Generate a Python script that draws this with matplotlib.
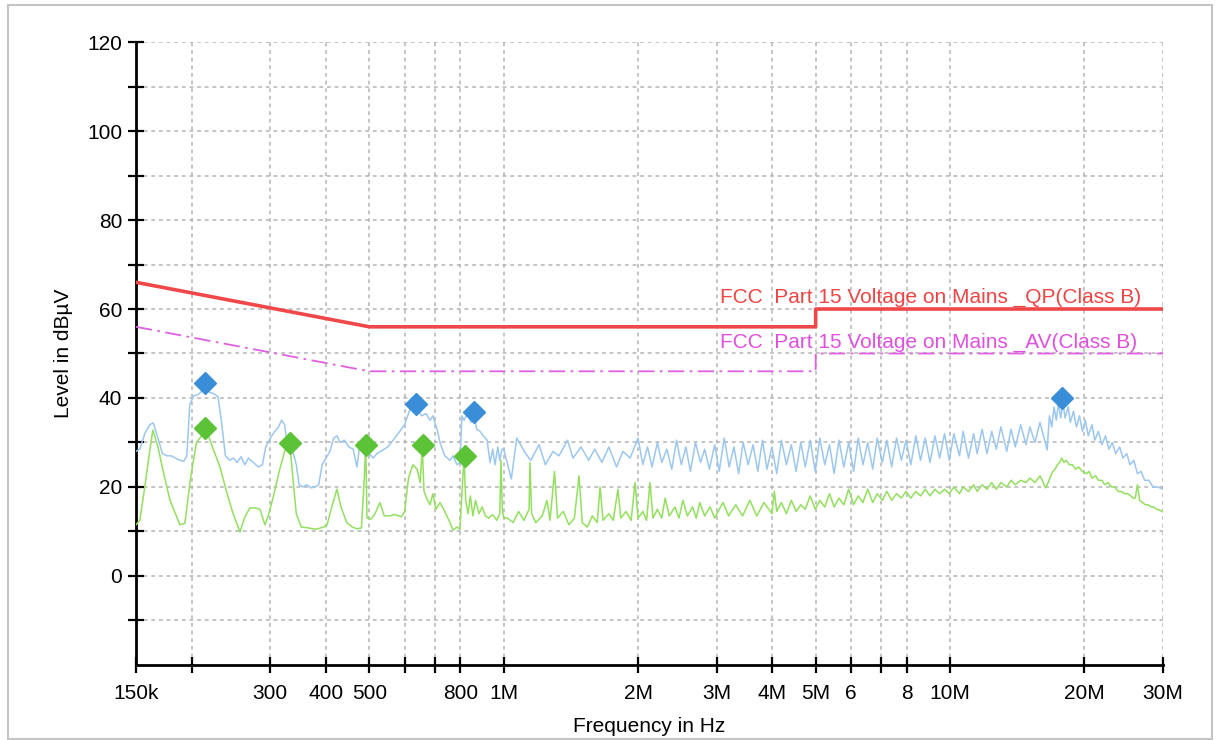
import matplotlib
matplotlib.use('Agg')
import matplotlib.pyplot as plt
from matplotlib.patches import Rectangle
from matplotlib.ticker import FixedLocator, FixedFormatter, NullLocator

# Conducted emission scan, frequency in MHz, level in dBuV

# peak trace (light blue)
blue_f = [0.150, 0.153, 0.157, 0.161, 0.164, 0.168, 0.172, 0.176, 0.180, 0.184,
          0.188, 0.192, 0.195, 0.198, 0.202, 0.207, 0.212, 0.216, 0.220, 0.224,
          0.229, 0.233, 0.238, 0.243, 0.248, 0.253, 0.258, 0.263, 0.268, 0.275,
          0.282, 0.288, 0.293, 0.300, 0.307, 0.313, 0.318, 0.323, 0.327, 0.332,
          0.338, 0.343, 0.348, 0.355, 0.362, 0.370, 0.378, 0.385, 0.392, 0.400,
          0.408, 0.416, 0.423, 0.430, 0.440, 0.450, 0.460, 0.469, 0.476, 0.485,
          0.492, 0.500, 0.510, 0.520, 0.530, 0.540, 0.550, 0.560, 0.570, 0.585,
          0.600, 0.607, 0.617, 0.626, 0.636, 0.645, 0.655, 0.670, 0.684, 0.694,
          0.709, 0.720, 0.738, 0.758, 0.770, 0.786, 0.798, 0.806, 0.815, 0.830,
          0.845, 0.858, 0.870, 0.885, 0.900, 0.918, 0.932, 0.945, 0.956, 0.970,
          0.980, 0.991,
          1.00, 1.04, 1.07, 1.12, 1.15, 1.20, 1.24, 1.29, 1.33, 1.39,
          1.43, 1.49, 1.55, 1.60, 1.66, 1.72, 1.79, 1.85, 1.92,
          2.00, 2.05, 2.10, 2.15, 2.21, 2.26, 2.32, 2.38, 2.44, 2.50,
          2.56, 2.62, 2.69, 2.76, 2.82, 2.89, 2.97, 3.04, 3.12, 3.20,
          3.28, 3.36, 3.44, 3.53, 3.62, 3.71, 3.80, 3.89, 3.99, 4.09,
          4.19, 4.30, 4.41, 4.52, 4.63, 4.74, 4.86, 4.99, 5.11, 5.24,
          5.37, 5.50, 5.64, 5.78, 5.93, 6.08, 6.23, 6.38, 6.54, 6.71,
          6.87, 7.05, 7.22, 7.40, 7.59, 7.78, 7.97, 8.17, 8.38, 8.59,
          8.80, 9.02, 9.25, 9.48, 9.72, 9.96, 10.2, 10.5, 10.7, 11.0,
          11.3, 11.5, 11.8, 12.1, 12.4, 12.7, 13.0, 13.4, 13.7, 14.0,
          14.4, 14.8, 15.1, 15.5, 15.9, 16.3,
          16.5, 16.7, 16.9, 17.1, 17.3, 17.5, 17.7, 17.9, 18.1, 18.4,
          18.6, 18.9, 19.2, 19.5, 19.8, 20.1, 20.4, 20.8, 21.1, 21.5,
          21.9, 22.3, 22.7, 23.1, 23.5, 24.0, 24.4, 24.9, 25.3, 25.8,
          26.3, 26.8, 27.3, 27.9, 28.5, 29.2, 30.0]
blue_db = [28.0, 28.5, 32.0, 34.0, 34.4, 31.0, 27.5, 27.0, 27.0, 26.5,
           26.0, 25.8, 27.0, 38.5, 40.5, 40.8, 41.8, 42.0, 41.2, 41.0,
           40.3, 35.0, 27.0, 26.0, 26.5, 25.5, 26.8, 25.0, 26.5, 25.5,
           24.5, 25.0, 29.0, 31.0, 32.5, 33.5, 35.0, 34.0, 30.0, 28.0,
           27.5, 25.0, 20.5, 20.0, 20.5, 19.8, 20.0, 20.5, 25.0, 26.5,
           28.0, 31.0, 31.5, 30.0, 30.5, 29.0, 28.5, 24.5, 29.5, 30.0,
           29.5, 27.5, 26.5, 27.5, 28.0, 28.5, 29.0, 30.0, 31.0, 32.5,
           34.0, 35.5, 37.5, 38.5, 38.0, 37.0, 36.0, 36.5, 35.0, 36.0,
           33.0, 30.0, 27.0, 26.0, 27.0, 25.0, 25.5, 36.0, 35.0, 36.5,
           34.5, 36.0, 33.0, 32.5, 31.5, 30.5, 25.5, 28.5, 25.0, 29.0,
           26.0, 28.5,
           28.5, 21.8, 31.0, 27.5, 26.0, 29.5, 25.0, 28.0, 27.0, 30.5,
           26.5, 29.0, 26.0, 28.5, 25.5, 29.0, 24.5, 28.0, 26.5,
           31.0, 25.0, 29.0, 24.5, 30.0, 25.5, 28.5, 24.0, 30.5, 25.0,
           29.0, 23.5, 30.0, 25.5, 28.5, 24.0, 29.5, 23.5, 31.0, 24.5,
           29.0, 23.0, 30.0, 25.0, 29.5, 23.5, 30.5, 24.0, 29.0, 23.0,
           30.5, 25.0, 29.5, 23.5, 30.0, 24.5, 30.5, 23.5, 31.0, 25.0,
           29.5, 23.0, 30.5, 24.5, 30.0, 23.5, 31.0, 25.0, 30.0, 24.0,
           31.0, 25.5, 30.5, 24.5, 31.0, 26.0, 30.5, 25.0, 31.5, 26.0,
           31.0, 25.5, 31.5, 26.5, 32.0, 26.0, 32.0, 27.0, 32.5, 26.5,
           32.0, 27.5, 33.0, 27.5, 32.5, 28.5, 33.5, 28.0, 33.0, 29.0,
           34.0, 29.5, 33.5, 30.0, 34.5, 30.5,
           28.3, 36.0, 33.5, 38.0, 35.0, 39.0, 35.5, 39.0, 35.5, 38.0,
           34.5, 37.0, 33.5, 36.0, 32.5, 35.0, 31.5, 34.0, 30.5, 32.5,
           29.5, 31.5, 28.5, 30.0, 27.5, 29.0, 26.5, 27.5, 25.0, 26.0,
           23.0, 23.5, 21.5, 21.5, 20.0, 20.0, 19.5]

# average trace (light green)
green_f = [0.150, 0.153, 0.157, 0.161, 0.1637, 0.168, 0.1724, 0.1788, 0.1882, 0.193,
           0.199, 0.205, 0.2141, 0.219, 0.2226, 0.2314, 0.2399, 0.2474, 0.2565, 0.2632,
           0.270, 0.2772, 0.2844, 0.2918, 0.2965, 0.305, 0.315, 0.323, 0.332, 0.337,
           0.343, 0.352, 0.365, 0.380, 0.395, 0.402, 0.412, 0.423, 0.432, 0.445,
           0.458, 0.469, 0.480, 0.486, 0.491, 0.494, 0.505, 0.515, 0.528, 0.540,
           0.555, 0.570, 0.590, 0.600, 0.612, 0.626, 0.640, 0.650, 0.657, 0.663,
           0.672, 0.684, 0.694, 0.705, 0.720, 0.738, 0.758, 0.770, 0.786, 0.798,
           0.808, 0.815, 0.822, 0.832, 0.842, 0.853, 0.865, 0.880, 0.895, 0.910,
           0.925, 0.945, 0.965, 0.980, 0.986, 0.993,
           1.00, 1.02, 1.05, 1.08, 1.11, 1.14, 1.145, 1.155, 1.18, 1.22,
           1.25, 1.27, 1.30, 1.32, 1.36, 1.40, 1.44, 1.475, 1.50, 1.54,
           1.58, 1.62, 1.644, 1.67, 1.72, 1.76, 1.803, 1.83, 1.88, 1.93,
           1.969, 2.00, 2.05, 2.09, 2.127, 2.16, 2.21, 2.26, 2.30, 2.35,
           2.42, 2.47, 2.52, 2.58, 2.65, 2.70, 2.75, 2.82, 2.90, 2.97,
           3.04, 3.10, 3.19, 3.31, 3.43, 3.56, 3.69, 3.83,
           3.99, 4.04, 4.09, 4.19, 4.30, 4.41, 4.52, 4.63, 4.74, 4.86,
           4.99, 5.11, 5.24, 5.37, 5.50, 5.64, 5.78, 5.93, 6.08, 6.23,
           6.38, 6.54, 6.71, 6.87, 7.05, 7.22, 7.40, 7.59, 7.78, 7.97,
           8.17, 8.38, 8.59, 8.80, 9.02, 9.25, 9.48, 9.72, 9.96, 10.2,
           10.5, 10.7, 11.0, 11.3, 11.5, 11.8, 12.1, 12.4, 12.7, 13.0,
           13.4, 13.7, 14.0, 14.4, 14.8, 15.1, 15.5, 15.9, 16.1, 16.35,
           16.6, 16.8, 17.0, 17.2, 17.4, 17.6, 17.8, 18.0, 18.2, 18.5,
           18.8, 19.1, 19.4, 19.8, 20.2, 20.5, 20.8, 21.2, 21.5, 21.9,
           22.2, 22.6, 23.0, 23.4, 23.8, 24.2, 24.6, 25.0, 25.4, 25.7,
           26.0, 26.3, 26.6, 27.0, 27.4, 27.8, 28.2, 28.6, 29.0, 29.5,
           30.0]
green_db = [11.5, 12.5, 20.0, 28.0, 32.8, 29.0, 23.8, 17.0, 11.5, 11.8,
            22.3, 30.0, 32.5, 31.0, 29.0, 24.5, 18.6, 14.1, 9.9, 13.3,
            15.3, 15.3, 15.0, 11.5, 13.3, 18.0, 24.0, 28.0, 29.5, 22.0,
            14.0, 11.0, 10.8, 10.5, 11.0, 11.5, 15.5, 19.5, 15.5, 12.0,
            11.0, 10.6, 10.8, 20.0, 29.0, 13.0, 12.8, 14.0, 16.5, 13.5,
            13.5, 13.8, 13.3, 14.5, 22.0, 25.0, 24.0, 21.0, 29.0, 19.0,
            17.5, 16.0, 18.5, 15.0, 16.5, 14.5, 12.0, 10.3, 11.0, 10.5,
            20.0, 27.0, 17.0, 14.0, 18.0, 13.5, 17.0, 14.0, 15.5, 13.5,
            13.0, 13.8, 12.5, 14.0, 26.0, 15.0,
            13.0, 13.0, 12.0, 14.5, 12.5, 15.0, 25.5, 14.0, 12.0, 13.5,
            17.0, 12.5, 23.5, 13.0, 14.5, 11.5, 13.0, 22.5, 12.0, 11.0,
            13.5, 12.0, 20.0, 12.5, 14.0, 12.5, 19.5, 13.0, 14.5, 12.5,
            21.0, 13.0, 14.5, 12.5, 21.0, 13.0, 15.0, 13.0, 17.5, 13.5,
            15.5, 13.0, 17.0, 13.5, 15.5, 13.0, 16.5, 13.5, 15.5, 13.0,
            15.0, 16.5, 13.5, 16.0, 13.5, 17.0, 13.5, 16.5,
            14.0, 19.0, 14.5, 16.5, 14.0, 17.0, 14.5, 16.0, 15.0, 18.0,
            15.0, 17.0, 15.5, 18.5, 15.5, 17.5, 16.0, 19.5, 16.0, 18.0,
            16.5, 19.5, 16.5, 18.5, 17.0, 19.0, 17.0, 18.5, 17.5, 19.0,
            17.5, 19.0, 18.0, 19.5, 18.0, 19.5, 18.5, 19.5, 18.5, 20.0,
            18.5, 20.0, 19.0, 20.5, 19.0, 20.5, 19.5, 21.0, 19.5, 21.0,
            20.0, 21.5, 20.5, 21.5, 21.0, 22.0, 21.0, 22.5, 21.5, 19.8,
            21.0, 22.5, 23.5, 24.0, 25.0, 25.5, 26.5, 25.5, 26.0, 25.0,
            25.0, 24.0, 24.5, 23.5, 23.0, 23.5, 22.0, 22.5, 21.5, 21.5,
            20.5, 21.0, 20.0, 20.0, 19.0, 19.0, 18.5, 18.5, 18.0, 17.5,
            17.5, 20.5, 17.0, 16.5, 16.0, 16.0, 15.5, 15.5, 15.0, 14.8,
            14.4]

# limit lines
limit_f = [0.15, 0.5, 5.0, 5.0, 30.0]
qp_limit = [66, 56, 56, 60, 60]
av_limit = [56, 46, 46, 50, 50]

# final measurement points
qp_peak_f = [0.214, 0.636, 0.858, 17.8]
qp_peak_db = [43.4, 38.7, 36.9, 40.0]
av_peak_f = [0.214, 0.332, 0.491, 0.659, 0.819]
av_peak_db = [33.3, 29.9, 29.4, 29.4, 27.0]

x_ticks = [0.15, 0.2, 0.3, 0.4, 0.5, 0.6, 0.7, 0.8, 1, 2, 3, 4, 5, 6, 7, 8, 10, 20, 30]
x_tick_labels = ['150k', '', '300', '400', '500', '', '', '800', '1M', '2M', '3M',
                 '4M', '5M', '6', '', '8', '10M', '20M', '30M']
y_ticks = [0, 20, 40, 60, 80, 100, 120]
y_minor = [-10, 10, 30, 50, 70, 90, 110]

plt.rcParams['font.family'] = ['Liberation Sans', 'DejaVu Sans']

fig = plt.figure(figsize=(12.16, 7.40), dpi=100)
ax = fig.add_axes([0.1118, 0.1014, 0.8446, 0.8418])

ax.plot(blue_f, blue_db, color='#9cc7f0', lw=1.1, zorder=3)
ax.plot(green_f, green_db, color='#92e05e', lw=1.1, zorder=3)
ax.plot(limit_f, qp_limit, color='#f04848', lw=2.6, zorder=4)
ax.plot(limit_f, av_limit, color='#e060e0', lw=1.3, ls=(0, (9, 3, 1.5, 3)), zorder=4)
ax.plot(qp_peak_f, qp_peak_db, ls='none', marker='D', ms=11, color='#3a8ed8', zorder=5)
ax.plot(av_peak_f, av_peak_db, ls='none', marker='D', ms=11, color='#5cc236', zorder=5)

ax.text(3.05, 61.4, 'FCC  Part 15 Voltage on Mains _QP(Class B)', color='#ee4444',
        fontsize=15, va='baseline', zorder=6)
ax.text(3.05, 51.3, 'FCC  Part 15 Voltage on Mains _AV(Class B)', color='#e050e0',
        fontsize=15, va='baseline', zorder=6)

ax.set_xscale('log')
ax.set_xlim(0.15, 30)
ax.set_ylim(-20, 120)
ax.xaxis.set_major_locator(FixedLocator(x_ticks))
ax.xaxis.set_major_formatter(FixedFormatter(x_tick_labels))
ax.xaxis.set_minor_locator(NullLocator())
ax.yaxis.set_major_locator(FixedLocator(y_ticks))
ax.yaxis.set_minor_locator(FixedLocator(y_minor))

ax.grid(True, which='major', color='#b4b4b4', ls=(0, (2.5, 2.5)), lw=1.1)
ax.grid(True, which='minor', axis='y', color='#b4b4b4', ls=(0, (2.5, 2.5)), lw=1.1)
ax.set_axisbelow(True)

ax.tick_params(axis='both', which='both', direction='inout', length=11, width=1.6,
               labelsize=15, colors='black')
ax.tick_params(axis='y', pad=4.5)
ax.tick_params(axis='x', pad=8)

for side in ['top', 'right']:
    ax.spines[side].set_visible(False)
for side in ['left', 'bottom']:
    ax.spines[side].set_linewidth(2)

ax.set_xlabel('Frequency in Hz', fontsize=15, labelpad=10)
ax.set_ylabel('Level in dBµV', fontsize=15, labelpad=10)

fig.patches.append(Rectangle((0.0066, 0.0015), 0.9901, 0.9917, transform=fig.transFigure,
                             fill=False, edgecolor='#c4c4c4', lw=1.5))

fig.savefig('out.png', dpi=100)
